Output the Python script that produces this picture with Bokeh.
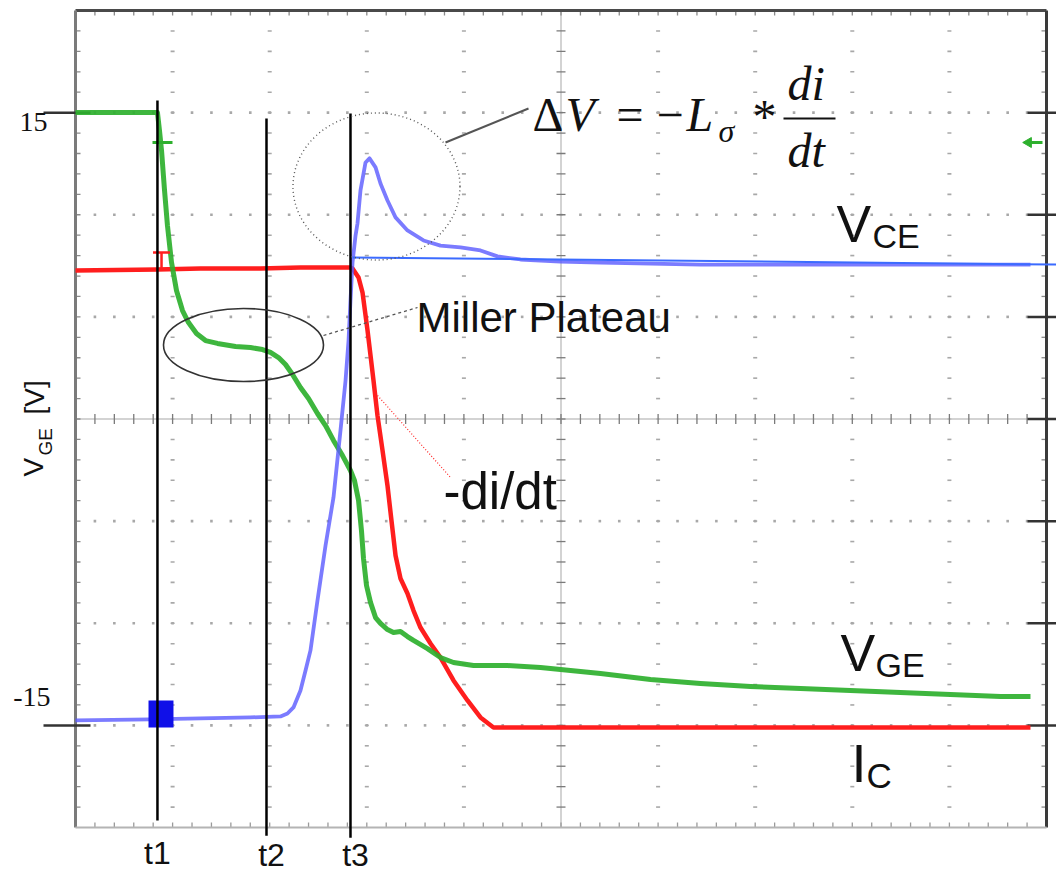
import numpy as np
from bokeh.plotting import figure
from bokeh.models import Range1d
from bokeh.core.properties import value
from bokeh.embed import file_html
from bokeh.resources import INLINE

# ---------------- data (x: screen divisions, y: volts, 5 V/div) ----------------
vge_t = [0.0, 0.844, 0.865, 0.886, 0.917, 0.947, 0.989, 1.040, 1.102, 1.164, 1.246, 1.339,
         1.462, 1.648, 1.802, 1.926, 2.008, 2.091, 2.163, 2.235, 2.317, 2.400, 2.492, 2.575,
         2.657, 2.750, 2.832, 2.873, 2.915, 2.945, 2.966, 2.997, 3.038, 3.090, 3.141, 3.213,
         3.275, 3.347, 3.419, 3.481, 3.625, 3.759, 3.893, 4.099, 4.449, 4.789, 5.407, 5.922,
         6.437, 6.952, 7.467, 7.981, 8.496, 9.011, 9.526, 9.835]
vge_v = [15.01, 15.01, 14.12, 13.15, 11.19, 9.47, 7.66, 6.29, 5.31, 4.72, 4.19, 3.84,
         3.70, 3.55, 3.50, 3.40, 3.26, 3.01, 2.67, 2.18, 1.54, 1.00, 0.27, -0.32,
         -1.05, -1.79, -2.52, -3.01, -3.99, -5.46, -6.83, -8.15, -8.98, -9.72, -10.01, -10.31,
         -10.45, -10.40, -10.65, -10.84, -11.24, -11.68, -11.92, -12.07, -12.07, -12.17, -12.46, -12.75,
         -12.95, -13.10, -13.20, -13.29, -13.39, -13.49, -13.59, -13.59]

ic_t = [0.0, 0.844, 1.287, 1.905, 2.317, 2.832, 2.853, 2.915, 2.956, 3.007, 3.069, 3.110,
        3.162, 3.213, 3.254, 3.296, 3.347, 3.419, 3.481, 3.553, 3.656, 3.759, 3.893, 4.037,
        4.171, 4.305, 4.686, 6.437, 9.835]
ic_v = [7.27, 7.32, 7.37, 7.37, 7.42, 7.42, 7.37, 6.93, 6.19, 4.36, 1.88, 0.17,
        -1.54, -3.26, -4.97, -6.68, -7.81, -8.54, -9.38, -10.21, -10.99, -11.68, -12.80, -13.78,
        -14.61, -15.10, -15.10, -15.10, -15.10]

vce_t = [0.0, 0.772, 1.287, 1.802, 2.111, 2.183, 2.245, 2.317, 2.369, 2.420, 2.492, 2.575,
         2.657, 2.729, 2.781, 2.812, 2.832, 2.853, 2.884, 2.904, 2.935, 2.987, 3.028, 3.090,
         3.141, 3.213, 3.296, 3.419, 3.584, 3.759, 3.965, 4.171, 4.346, 4.583, 4.995, 5.407,
         6.437, 7.981, 9.835]
vce_v = [-14.76, -14.71, -14.66, -14.61, -14.56, -14.42, -14.12, -13.29, -12.31, -11.33, -8.89, -6.19,
         -3.84, -0.56, 1.88, 3.84, 5.80, 7.66, 8.98, 9.57, 11.19, 12.56, 12.76, 12.32,
         11.53, 10.70, 9.87, 9.23, 8.74, 8.49, 8.40, 8.25, 7.96, 7.81, 7.71, 7.66,
         7.56, 7.56, 7.56]

vce_ref_t = [2.853, 10.14]
vce_ref_v = [7.91, 7.56]

# switching glitch at t1 (burst on each channel)
vce_glitch_t = [0.752, 1.009]
vce_glitch_v = [-15.10, -13.78]
vge_glitch_t = [0.896]
vge_glitch_v = [13.54]
ic_glitch_t = [0.886]
ic_glitch_v = [8.15, 7.37]

event_t = [0.844, 1.967, 2.832]
event_top = [15.59, 14.71, 14.96]
event_bottom = [-19.66, -20.4, -20.5]
event_labels = ["t1", "t2", "t3"]

y_tick_vals = [15, -15]
y_tick_labels = ["15", "-15"]
right_tick_vals = [-15, -10, -5, 0, 5, 10, 15]

N_XDIV, N_YDIV, N_SUB = 10, 8, 5
VOLT_PER_DIV = 5

# ---------------- screen-pixel helpers (layout only) ----------------
PX_DIV, PX_VOLT = 97.1, 20.425


def X(px):
    return (px - 75.0) / PX_DIV


def Y(py):
    return (418.5 - py) / PX_VOLT


W, H = 1056, 874
SANS = "Liberation Sans"
SERIF = "Liberation Serif"
BASE_SHIFT = 0.37  # renderer places the alphabetic anchor ~0.37 em above the glyph baseline

p = figure(width=W, height=H, x_range=Range1d(X(0), X(W)), y_range=Range1d(Y(H), Y(0)),
           output_backend="svg", toolbar_location=None,
           x_axis_location=None, y_axis_location=None, min_border=0,
           background_fill_color="white", border_fill_color="white")
p.grid.visible = False
p.outline_line_color = None

# ---------------- graticule ----------------
ymax = N_YDIV / 2 * VOLT_PER_DIV
minor_x = np.round(np.arange(1, N_XDIV * N_SUB) / N_SUB, 3)
minor_y = np.arange(-ymax + 1, ymax, 1.0)
hgrid_y = [v for v in np.arange(-ymax + VOLT_PER_DIV, ymax, VOLT_PER_DIV) if v != 0]
vgrid_x = [v for v in range(1, N_XDIV) if v != N_XDIV // 2]

hx = np.tile(minor_x, len(hgrid_y))
hy = np.repeat(hgrid_y, len(minor_x))
p.scatter(hx, hy, marker="square", size=2.6, fill_color="#a8a8a8", line_color=None)
vx = np.repeat(vgrid_x, len(minor_y))
vy = np.tile(minor_y, len(vgrid_x))
p.scatter(vx, vy, marker="dash", size=4, line_color="#a8a8a8", line_width=1.6)

# center axes
p.segment(x0=[0], y0=[0], x1=[N_XDIV], y1=[0], line_color="#c4c4c4", line_width=1.5)
p.segment(x0=[N_XDIV / 2], y0=[-ymax], x1=[N_XDIV / 2], y1=[ymax], line_color="#c4c4c4", line_width=1.5)
p.scatter(minor_x, np.zeros_like(minor_x), marker="dash", angle=np.pi / 2, size=10,
          line_color="#7a7a7a", line_width=1.3)
p.scatter(np.full_like(minor_y, N_XDIV / 2), minor_y, marker="dash", size=9,
          line_color="#7a7a7a", line_width=1.3)

# border inner ticks (5 px long)
tv = 5 / PX_VOLT
th = 5 / PX_DIV
p.segment(x0=minor_x, y0=np.full_like(minor_x, ymax), x1=minor_x, y1=np.full_like(minor_x, ymax - tv),
          line_color="#8a8a8a", line_width=1.3)
p.segment(x0=minor_x, y0=np.full_like(minor_x, -ymax), x1=minor_x, y1=np.full_like(minor_x, -ymax + tv),
          line_color="#9a9a9a", line_width=1.3)
p.segment(x0=np.zeros_like(minor_y), y0=minor_y, x1=np.full_like(minor_y, th), y1=minor_y,
          line_color="#8a8a8a", line_width=1.3)
p.segment(x0=np.full_like(minor_y, N_XDIV), y0=minor_y, x1=np.full_like(minor_y, N_XDIV - th), y1=minor_y,
          line_color="#8a8a8a", line_width=1.3)

# frame sides
p.segment(x0=[0], y0=[ymax], x1=[N_XDIV], y1=[ymax], line_color="#4a4a4a", line_width=3)
p.segment(x0=[0], y0=[-ymax], x1=[0], y1=[ymax], line_color="#7a7a7a", line_width=3)
p.segment(x0=[N_XDIV], y0=[-ymax], x1=[N_XDIV], y1=[ymax], line_color="#3a3a3a", line_width=3)
p.segment(x0=[0], y0=[-ymax], x1=[N_XDIV], y1=[-ymax], line_color="#b4b4b4", line_width=2)

# outer tick marks
p.segment(x0=[X(43)] * len(y_tick_vals), y0=y_tick_vals, x1=[X(90)] * len(y_tick_vals), y1=y_tick_vals,
          line_color="#333333", line_width=2.5)
p.segment(x0=[X(1027)] * len(right_tick_vals), y0=right_tick_vals, x1=[X(1060)] * len(right_tick_vals),
          y1=right_tick_vals, line_color="#333333", line_width=2.5)

# ---------------- traces ----------------
p.line(ic_t, ic_v, line_color="#ff1e1e", line_width=4.5, line_join="round")
p.line(vge_t, vge_v, line_color="#2eb02e", line_width=5, line_alpha=0.92, line_join="round")
p.line(vce_t, vce_v, line_color="#5a5aff", line_width=3.8, line_alpha=0.8, line_join="round")
p.line(vce_ref_t, vce_ref_v, line_color="#3b6bff", line_width=2)

p.quad(left=[vce_glitch_t[0]], right=[vce_glitch_t[1]], bottom=[vce_glitch_v[0]], top=[vce_glitch_v[1]],
       fill_color="#1010e8", line_color=None)
p.scatter(vge_glitch_t, vge_glitch_v, marker="dash", size=20, line_color="#2eb02e", line_width=3)
p.scatter(ic_glitch_t, [ic_glitch_v[0]], marker="dash", size=17, line_color="#ff1e1e", line_width=2.5)
p.segment(x0=ic_glitch_t, y0=[ic_glitch_v[0]], x1=ic_glitch_t, y1=[ic_glitch_v[1]],
          line_color="#ff1e1e", line_width=2.5)

# ground marker arrow (right edge)
p.scatter([X(1028)], [Y(142)], marker="triangle", angle=np.pi / 2, size=10,
          fill_color="#2eb02e", line_color="#2eb02e")
p.segment(x0=[X(1028)], y0=[Y(142)], x1=[X(1042)], y1=[Y(142)], line_color="#2eb02e", line_width=3)

# event cursors
p.segment(x0=event_t, y0=event_top, x1=event_t, y1=event_bottom, line_color="black", line_width=2.5)

# ---------------- annotations ----------------
p.ellipse(x=[X(376)], y=[Y(186)], width=[167 / PX_DIV], height=[147 / PX_VOLT],
          fill_color=None, line_color="#555555", line_width=1.4, line_dash="1 3")
p.ellipse(x=[X(243)], y=[Y(344.5)], width=[160 / PX_DIV], height=[73 / PX_VOLT],
          fill_color=None, line_color="#333333", line_width=1.6)
p.line([X(445), X(528)], [Y(142), Y(108)], line_color="#555555", line_width=2)
p.line([X(323), X(417)], [Y(335), Y(307)], line_color="#555555", line_width=1.3, line_dash="3 3")
p.line([X(377), X(450)], [Y(395), Y(477)], line_color="#ff2a2a", line_width=1.2, line_dash="1 2")


def txt(text, px, py, size, font=SANS, style="normal", align="left", rotated=False, color="#111111"):
    # px, py: wanted glyph origin (left/centre/right of the baseline) in screen pixels
    if rotated:
        px = px - BASE_SHIFT * size
        angle = np.pi / 2
    else:
        py = py - BASE_SHIFT * size
        angle = 0.0
    p.text(x=[X(px)], y=[Y(py)], text=[text], text_font=value(font), text_font_size=f"{size}px",
           text_font_style=style, text_align=align, text_baseline="alphabetic",
           angle=angle, text_color=color)


txt("Miller Plateau", 416, 333, 42)
txt("-di/dt", 443, 510, 51)
txt("V", 836, 243, 52)
txt("CE", 872, 248, 34)
txt("V", 840, 672, 52)
txt("GE", 875, 677, 34)
txt("I", 851, 782, 54)
txt("C", 866, 788, 35)

# formula  ΔV = −Lσ * di/dt
FS = 48
txt("Δ", 532, 132, FS, SERIF)
txt("V", 565, 132, FS, SERIF, "italic")
txt("=", 616, 132, FS, SERIF)
txt("−", 656, 132, FS, SERIF)
txt("L", 686, 132, FS, SERIF, "italic")
txt("σ", 718, 142, 32, SERIF, "italic")
txt("*", 752, 134, FS, SERIF)
txt("di", 787, 101, FS, SERIF, "italic")
txt("dt", 787, 168, FS, SERIF, "italic")
p.segment(x0=[X(783)], y0=[Y(118)], x1=[X(835)], y1=[Y(118)], line_color="#111111", line_width=2)

# y-axis label (rotated, reads bottom to top)
txt("V", 43, 476, 28, rotated=True)
txt("GE", 52, 455, 19, rotated=True)
txt("[V]", 44, 414, 28, rotated=True)

# tick labels
txt(y_tick_labels[0], 47, 132, 28, SERIF, align="right")
txt(y_tick_labels[1], 50, 707, 28, SERIF, align="right")

# cursor labels
for t, lab, by in zip(event_t, event_labels, [864, 866, 866]):
    txt(lab, 75 + t * PX_DIV + (0 if lab == "t1" else 5), by, 32, align="center")

open("out.html", "w").write(file_html(p, INLINE))
